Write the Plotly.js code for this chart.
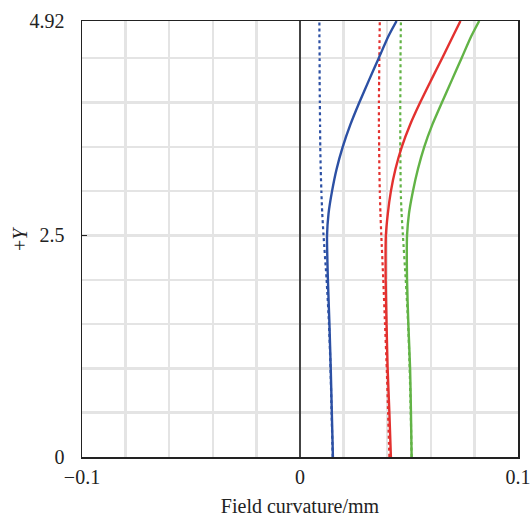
<!DOCTYPE html>
<html>
<head>
<meta charset="utf-8">
<script src="https://cdn.plot.ly/plotly-3.0.1.min.js"></script>
<style>html,body{margin:0;padding:0;background:#fff;}#chart{width:532px;height:518px;}</style>
</head>
<body>
<div id="chart"></div>
<script>
// Image height (+Y field)
var fieldY = [0, 0.5, 1, 1.5, 2, 2.5, 2.75, 3, 3.25, 3.5, 3.75, 4, 4.25, 4.5, 4.75, 4.92];
// Field curvature (mm): T = solid, S = dotted
var blueT  = [0.0151,0.0146,0.0141,0.0135,0.0128,0.0124,0.0131,0.0147,0.0168,0.0196,0.0231,0.0272,0.0316,0.0361,0.0406,0.0443];
var blueS  = [0.0150,0.0145,0.0140,0.0133,0.0122,0.0108,0.0102,0.0098,0.0095,0.0093,0.0092,0.0091,0.0090,0.0090,0.0089,0.0089];
var redT   = [0.0417,0.0410,0.0402,0.0397,0.0393,0.0394,0.0403,0.0417,0.0438,0.0467,0.0505,0.0551,0.0601,0.0652,0.0702,0.0736];
var redS   = [0.0410,0.0404,0.0398,0.0390,0.0382,0.0373,0.0369,0.0366,0.0364,0.0363,0.0362,0.0362,0.0363,0.0364,0.0365,0.0366];
var greenT = [0.0512,0.0509,0.0505,0.0497,0.0491,0.0491,0.0500,0.0518,0.0541,0.0570,0.0607,0.0651,0.0696,0.0741,0.0786,0.0822];
var greenS = [0.0512,0.0508,0.0503,0.0496,0.0485,0.0472,0.0466,0.0462,0.0461,0.0460,0.0460,0.0460,0.0461,0.0461,0.0462,0.0463];

var xTickVals = [-0.1, 0, 0.1];
var xTickText = ['\u22120.1', '0', '0.1'];
var yTickVals = [0, 2.5, 4.92];
var yTickText = ['0', '2.5', '4.92'];
var xTitle = 'Field curvature/mm';
var yTitle = '+<i>Y</i>';

var cBlue = '#2c50a4', cRed = '#e3312f', cGreen = '#62b346';

function tr(x, color, dash, width) {
  return {x: x, y: fieldY, type: 'scatter', mode: 'lines',
    line: {color: color, width: width, dash: dash, shape: 'spline', smoothing: 0.6},
    hoverinfo: 'skip', showlegend: false};
}
var data = [
  tr(blueS, cBlue, 'dot', 2.2), tr(redS, cRed, 'dot', 2.2), tr(greenS, cGreen, 'dot', 2.2),
  tr(blueT, cBlue, 'solid', 2.4), tr(redT, cRed, 'solid', 2.4), tr(greenT, cGreen, 'solid', 2.4)
];

var font = {family: '"Liberation Serif", "Times New Roman", serif', size: 20, color: '#222'};
var grid = '#e4e4e4';
var layout = {
  width: 532, height: 518,
  margin: {l: 82, r: 14, t: 21, b: 61},
  paper_bgcolor: '#fff', plot_bgcolor: '#fff',
  font: font,
  showlegend: false,
  xaxis: {
    range: [-0.1, 0.1], tickmode: 'array', tickvals: xTickVals, ticktext: xTickText,
    showgrid: true, gridcolor: grid, gridwidth: 2.5,
    minor: {tickmode: 'linear', tick0: 0, dtick: 0.02, showgrid: true, gridcolor: grid, gridwidth: 2.5},
    zeroline: true, zerolinecolor: '#444', zerolinewidth: 2,
    showline: true, linecolor: '#222', linewidth: 1.5, mirror: true,
    ticks: '', ticklabelstandoff: 1,
    title: {text: xTitle, font: font, standoff: 12}
  },
  yaxis: {
    range: [0, 4.92], tickmode: 'array', tickvals: yTickVals, ticktext: yTickText,
    showgrid: true, gridcolor: grid, gridwidth: 2.5,
    minor: {tickmode: 'linear', tick0: 0, dtick: 0.5, showgrid: true, gridcolor: grid, gridwidth: 2.5},
    zeroline: false,
    showline: true, linecolor: '#222', linewidth: 1.5, mirror: true,
    ticks: 'inside', ticklen: 5, tickcolor: '#222', tickwidth: 1.2, ticklabelstandoff: 12
  },
  annotations: [{
    text: yTitle, textangle: -90, font: font, showarrow: false,
    xref: 'paper', yref: 'paper', x: 0, y: 0.5, xanchor: 'center', yanchor: 'middle', xshift: -62
  }]
};
Plotly.newPlot('chart', data, layout, {staticPlot: true, displayModeBar: false});
</script>
</body>
</html>
